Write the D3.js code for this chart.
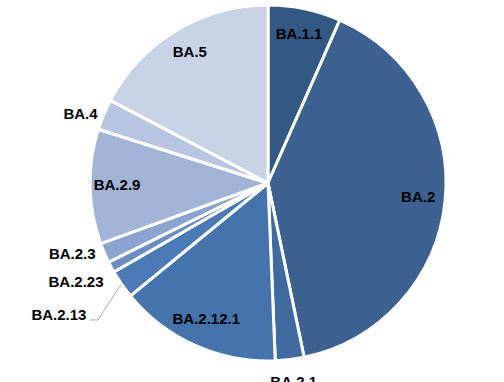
<!DOCTYPE html>
<html><head><meta charset="utf-8">
<script src="https://cdn.jsdelivr.net/npm/d3@7"></script>
<style>body{margin:0;background:#fff}svg{display:block}</style>
</head><body>
<script>
const categories = ["BA.1.1","BA.2","BA.2.1","BA.2.12.1","BA.2.13","BA.2.23","BA.2.3","BA.2.9","BA.4","BA.5"];
const values = [6.6,40.1,2.6,14.7,2.6,1.0,1.8,10.4,2.8,17.3];
const colors = ["#345884","#3d6190","#406ba1","#4573ac","#4b7ab6","#6a8dc4","#8aa4cf","#a2b4d6","#b8c5e0","#c9d3e7"];
const outside = ["BA.2.1","BA.2.13","BA.2.23","BA.2.3","BA.4"];

const W=504,H=382,cx=268,cy=183,R=178;
const svg=d3.select("body").append("svg").attr("width",W).attr("height",H);
const g=svg.append("g").attr("transform",`translate(${cx},${cy})`);
const pie=d3.pie().sort(null).value(d=>d.v);
const data=pie(categories.map((c,i)=>({c,v:values[i],col:colors[i]})));
const arc=d3.arc().innerRadius(0).outerRadius(R);
g.selectAll("path").data(data).join("path")
  .attr("d",arc).attr("fill",d=>d.data.col)
  .attr("stroke","#fff").attr("stroke-width",3).attr("stroke-linejoin","round");

const mid=d=>(d.startAngle+d.endAngle)/2;
const pt=(a,r)=>[r*Math.sin(a),-r*Math.cos(a)];
const nudge={"BA.2.3":[-10,-9],"BA.2.23":[-14,3],"BA.2.13":[-43,17],"BA.4":[-1,8],"BA.2.1":[1,-2]};
const lab=g.append("g").attr("font-family","'Liberation Sans',Arial,sans-serif")
  .attr("font-weight","bold").attr("font-size","15px").attr("fill","#000");
data.forEach(d=>{
  const out=outside.includes(d.data.c);
  let [x,y]=pt(mid(d),out?202:151);
  if(out){const n=nudge[d.data.c];x+=n[0];y+=n[1];}
  else y-=2;
  lab.append("text").attr("x",x).attr("y",y).attr("dy","0.36em")
    .attr("text-anchor","middle").text(d.data.c);
  if(d.data.c==="BA.2.13"){
    const e=pt(mid(d),R+1);
    g.append("polyline").attr("points",`${x+31},${y+5} ${x+39},${y+5} ${e[0]},${e[1]}`)
      .attr("fill","none").attr("stroke","#a6a6a6").attr("stroke-width",1);
  }
});
</script>
</body></html>
